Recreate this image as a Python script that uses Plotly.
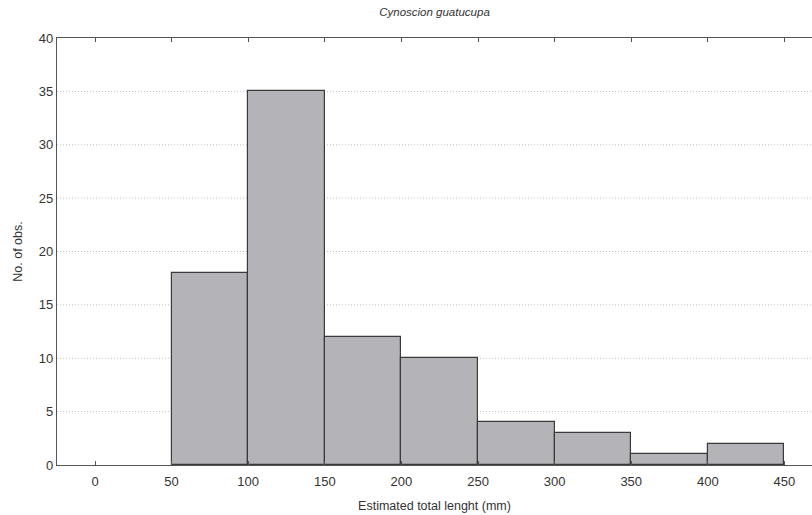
import plotly.graph_objects as go

bin_starts = [50, 100, 150, 200, 250, 300, 350, 400]
bin_width = 50
counts = [18, 35, 12, 10, 4, 3, 1, 2]
x_ticks = [0, 50, 100, 150, 200, 250, 300, 350, 400, 450]
y_ticks = [0, 5, 10, 15, 20, 25, 30, 35, 40]

centers = [s + bin_width / 2 for s in bin_starts]

fig = go.Figure(go.Bar(
    x=centers, y=counts, width=[bin_width] * len(counts),
    marker=dict(color="#b4b4b8", line=dict(color="#3a3a3a", width=1.2)),
))

# dotted gridlines
for v in y_ticks[1:-1]:
    fig.add_shape(type="line", xref="paper", x0=0, x1=1, yref="y", y0=v, y1=v,
                  line=dict(color="#c0c0c0", width=1, dash="1px,2px"), layer="below")

font = "Liberation Sans, Arial, sans-serif"
fig.update_layout(
    width=812, height=515,
    margin=dict(l=57, r=0, t=38, b=50, autoexpand=False),
    paper_bgcolor="white", plot_bgcolor="white",
    showlegend=False,
    bargap=0,
    title=dict(text="<i>Cynoscion guatucupa</i>", x=0.5, xanchor="center", xref="paper",
               y=1 - 12 / 515, yref="container", yanchor="middle",
               font=dict(family=font, size=11.5, color="#333")),
    font=dict(family=font, color="#333"),
    xaxis=dict(range=[-24.8, 468], tickvals=x_ticks, ticks="inside", ticklen=4,
               tickcolor="#555", showgrid=False, zeroline=False, showline=True,
               linecolor="#555", linewidth=1.2, mirror="ticks", automargin=False,
               ticklabelstandoff=4,
               tickfont=dict(size=13, color="#333"),
               title=dict(text="Estimated total lenght (mm)", font=dict(size=12.5, color="#333"), standoff=13)),
    yaxis=dict(range=[0, 40], tickvals=y_ticks, ticks="", showgrid=False, zeroline=False,
               showline=True, linecolor="#555", linewidth=1.2, mirror=False, automargin=False,
               tickfont=dict(size=13, color="#333"),
               title=dict(text="No. of obs.", font=dict(size=12.5, color="#333"), standoff=13)),
)

fig.write_html("out.html", config={"displayModeBar": False},
               post_script="document.body.style.margin='0';document.body.style.overflow='hidden';")
